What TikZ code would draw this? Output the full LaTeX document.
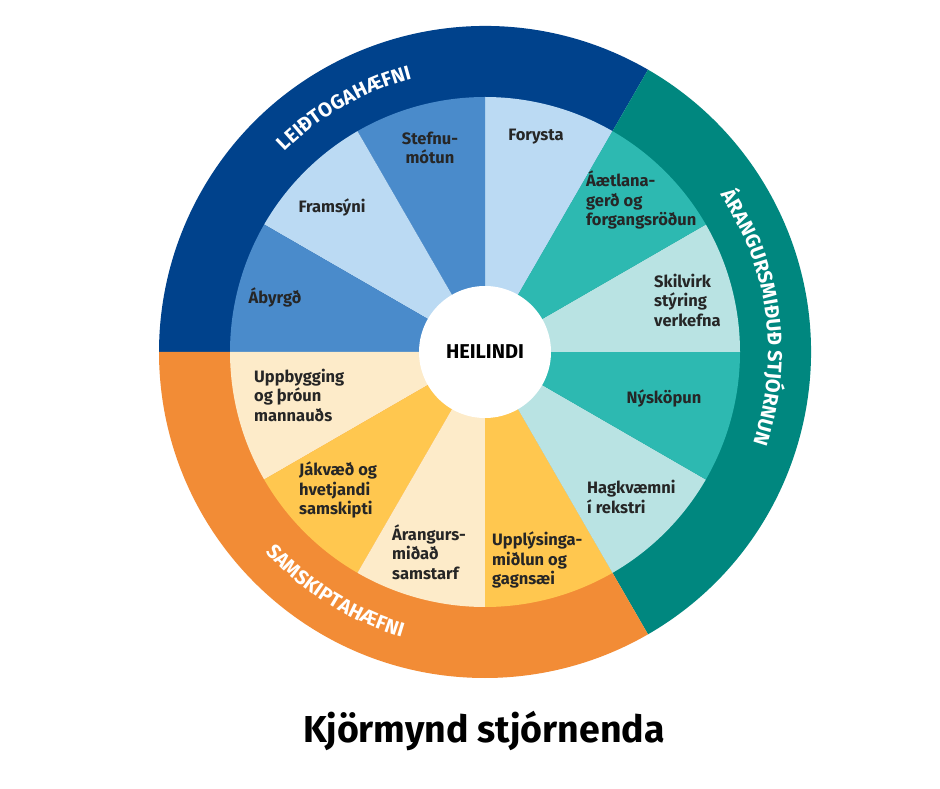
\documentclass[tikz,border=0pt]{standalone}
\usepackage{fontspec}
\setmainfont{Fira Sans}
\usetikzlibrary{decorations.text}
\definecolor{dblue}{HTML}{00428C}
\definecolor{mblue}{HTML}{4A8BCB}
\definecolor{lblue}{HTML}{BBDAF3}
\definecolor{dteal}{HTML}{00877F}
\definecolor{mteal}{HTML}{2DB9B1}
\definecolor{lteal}{HTML}{B9E3E3}
\definecolor{dorange}{HTML}{F28C36}
\definecolor{morange}{HTML}{FFC74F}
\definecolor{lorange}{HTML}{FDEBC9}
\tikzset{
  lbl/.style={font=\bfseries\fontsize{16.5}{19.5}\selectfont, text=black!85, align=center, inner sep=0pt},
  lbll/.style={lbl, align=left},
  ring/.style={decorate, decoration={text along path, text align=center, text={|\color{white}\bfseries\fontsize{20}{20}\selectfont|#1}}}
}
\newcommand{\mywedge}[3]{\fill[#1] (C) -- ++(#2:255) arc (#2:#3:255) -- cycle;}
\begin{document}
\begin{tikzpicture}[x=1pt,y=1pt]
\useasboundingbox[fill=white] (0,0) rectangle (940,788);
\coordinate (C) at (485,436);
\fill[dblue] (C) -- ++(60:326) arc (60:180:326) -- cycle;
\fill[dteal] (C) -- ++(-60:326) arc (-60:60:326) -- cycle;
\fill[dorange] (C) -- ++(180:326) arc (180:300:326) -- cycle;
\mywedge{lblue}{60}{90}
\mywedge{mblue}{90}{120}
\mywedge{lblue}{120}{150}
\mywedge{mblue}{150}{180}
\mywedge{lorange}{180}{210}
\mywedge{morange}{210}{240}
\mywedge{lorange}{240}{270}
\mywedge{morange}{270}{300}
\mywedge{lteal}{300}{330}
\mywedge{mteal}{330}{360}
\mywedge{lteal}{0}{30}
\mywedge{mteal}{30}{60}
\node[circle, fill=white, minimum size=132pt, inner sep=0pt, font=\bfseries\fontsize{20}{20}\selectfont] (center) at (C) {HEILINDI};
\path[ring={LEIÐTOGAHÆFNI}] (C) ++(155:283) arc (155:85:283);
\path[ring={ÁRANGURSMIÐUÐ STJÓRNUN}] (C) ++(68:283) arc (68:-53:283);
\path[ring={SAMSKIPTAHÆFNI}] (C) ++(200:297) arc (200:276:297);
\node[lbl] (forysta) at (536,651) {Forysta};
\node[lbl] (stefnu) at (430,640) {Stefnu-\\mótun};
\node[lbl] (framsyni) at (332,581) {Framsýni};
\node[lbl] (abyrgd) at (275,491) {Ábyrgð};
\node[lbll, anchor=west] (aaetl) at (586,588) {Áætlana-\\gerð og\\forgangsröðun};
\node[lbll, anchor=west] (skil) at (654,488) {Skilvirk\\stýring\\verkefna};
\node[lbl] (nysk) at (664,390) {Nýsköpun};
\node[lbll, anchor=west] (hagk) at (587,291) {Hagkvæmni\\í rekstri};
\node[lbll, anchor=west] (uppl) at (492,228) {Upplýsinga-\\miðlun og\\gagnsæi};
\node[lbll, anchor=west] (arang) at (392,236) {Árangurs-\\miðað\\samstarf};
\node[lbll, anchor=west] (jakv) at (299,298) {Jákvæð og\\hvetjandi\\samskipti};
\node[lbll, anchor=west] (uppb) at (254,393) {Uppbygging\\og þróun\\mannauðs};
\node[font=\bfseries\fontsize{37.5}{38}\selectfont] (title) at (484,57) {Kjörmynd stjórnenda};
\end{tikzpicture}
\end{document}
